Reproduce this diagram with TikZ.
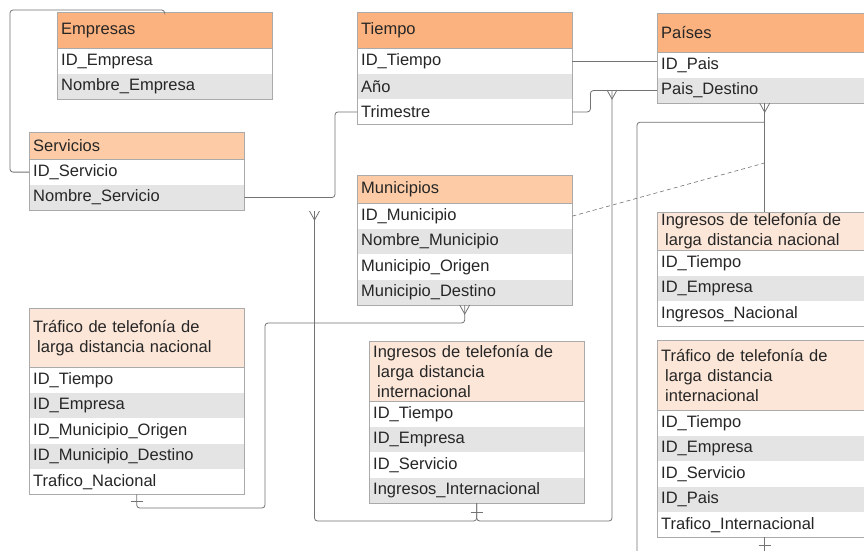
\documentclass[tikz,border=0pt]{standalone}
\usepackage{fontspec}
\setmainfont{Liberation Sans}
\usetikzlibrary{positioning}

\definecolor{hdrdark}{RGB}{252,178,126}
\definecolor{hdrlight}{RGB}{253,204,166}
\definecolor{hdrpale}{RGB}{252,230,216}
\definecolor{rowgray}{RGB}{228,228,228}
\definecolor{edgegray}{RGB}{170,170,170}
\definecolor{linkgray}{RGB}{115,115,115}

\tikzset{
  tablebox/.style={rectangle, anchor=north west, minimum width=215pt, text width=207pt,
    inner xsep=4pt, inner ysep=0pt, align=left, font=\fontsize{16.5}{20}\selectfont, text=black!85},
  hdr/.style={tablebox, fill=#1},
  fieldrow/.style={tablebox, anchor=north, minimum height=25pt, fill=#1},
  tablerule/.style={draw=edgegray, line width=0.7pt},
  relline/.style={draw=linkgray, line width=0.8pt, rounded corners=3pt},
  crowfoot/.pic={\draw[draw=linkgray, line width=0.8pt] (-5,0) -- (0,9) -- (5,0);},
  onebar/.pic={\draw[draw=linkgray, line width=0.8pt] (-6,0) -- (6,0);}
}

% rows of one table, below its header <name>-0
\newcommand{\tablefields}[2]{%
  \foreach \txt [count=\i] in {#2} {%
    \pgfmathtruncatemacro{\prev}{\i-1}%
    \ifodd\i\relax \def\rowfill{white}\else \def\rowfill{rowgray}\fi
    \node[fieldrow=\rowfill, below=0pt of #1-\prev] (#1-\i) {\txt};
  }%
}

\begin{document}
\begin{tikzpicture}[x=1pt,y=-1pt]
    \clip (0,0) rectangle (864,550);
    \fill[white] (0,0) rectangle (864,550);

    % Dimension tables
    \node[hdr=hdrdark, minimum height=36pt] (emp-0) at (57,12) {Empresas};
    \tablefields{emp}{ID\_Empresa,Nombre\_Empresa}

    \node[hdr=hdrlight, minimum height=27pt] (ser-0) at (29,132) {Servicios};
    \tablefields{ser}{ID\_Servicio,Nombre\_Servicio}

    \node[hdr=hdrdark, minimum height=36pt] (tie-0) at (357,12) {Tiempo};
    \tablefields{tie}{ID\_Tiempo,Año,Trimestre}

    \node[hdr=hdrdark, minimum height=39pt] (pai-0) at (657,13) {Países};
    \tablefields{pai}{ID\_Pais,Pais\_Destino}

    \node[hdr=hdrlight, minimum height=28pt] (mun-0) at (357,175) {Municipios};
    \tablefields{mun}{ID\_Municipio,Nombre\_Municipio,Municipio\_Origen,Municipio\_Destino}

    % Fact tables
    \node[hdr=hdrpale, minimum height=59pt] (tna-0) at (29,308)
        {Tráfico de telefonía de\\\hspace*{4pt}larga distancia nacional};
    \tablefields{tna}{ID\_Tiempo,ID\_Empresa,ID\_Municipio\_Origen,ID\_Municipio\_Destino,Trafico\_Nacional}

    \node[hdr=hdrpale, minimum height=60pt] (iin-0) at (369,341)
        {Ingresos de telefonía de\\\hspace*{4pt}larga distancia\\\hspace*{4pt}internacional};
    \tablefields{iin}{ID\_Tiempo,ID\_Empresa,ID\_Servicio,Ingresos\_Internacional}

    \node[hdr=hdrpale, minimum height=38pt] (ina-0) at (657,212)
        {Ingresos de telefonía de\\\hspace*{4pt}larga distancia nacional};
    \tablefields{ina}{ID\_Tiempo,ID\_Empresa,Ingresos\_Nacional}

    \node[hdr=hdrpale, minimum height=70pt] (tin-0) at (657,340)
        {Tráfico de telefonía de\\\hspace*{4pt}larga distancia\\\hspace*{4pt}internacional};
    \tablefields{tin}{ID\_Tiempo,ID\_Empresa,ID\_Servicio,ID\_Pais,Trafico\_Internacional}

    % Table outlines
    \draw[tablerule] (emp-0.north west) rectangle (emp-2.south east);
    \draw[tablerule] (emp-0.south west) -- (emp-0.south east);
    \draw[tablerule] (ser-0.north west) rectangle (ser-2.south east);
    \draw[tablerule] (ser-0.south west) -- (ser-0.south east);
    \draw[tablerule] (tie-0.north west) rectangle (tie-3.south east);
    \draw[tablerule] (tie-0.south west) -- (tie-0.south east);
    \draw[tablerule] (pai-0.north west) rectangle (pai-2.south east);
    \draw[tablerule] (pai-0.south west) -- (pai-0.south east);
    \draw[tablerule] (mun-0.north west) rectangle (mun-4.south east);
    \draw[tablerule] (mun-0.south west) -- (mun-0.south east);
    \draw[tablerule] (tna-0.north west) rectangle (tna-5.south east);
    \draw[tablerule] (tna-0.south west) -- (tna-0.south east);
    \draw[tablerule] (iin-0.north west) rectangle (iin-4.south east);
    \draw[tablerule] (iin-0.south west) -- (iin-0.south east);
    \draw[tablerule] (ina-0.north west) rectangle (ina-3.south east);
    \draw[tablerule] (ina-0.south west) -- (ina-0.south east);
    \draw[tablerule] (tin-0.north west) rectangle (tin-5.south east);
    \draw[tablerule] (tin-0.south west) -- (tin-0.south east);

    % Free ends and bends
    \coordinate (empcorner) at (10,10);
    \coordinate (ymun) at (314.5,211);
    \coordinate (ypai) at (612,90);
    \coordinate (mbendtop) at (265,323);
    \coordinate (mbendlow) at (265,508);
    \coordinate (tinend) at (637,560);
    \coordinate (dashend) at (764.5,163);

    % Relations
    \draw[relline] (emp-0.north) |- (empcorner) |- (ser-1.west);
    \draw[relline] (ser-2.east) -| ([xshift=-22pt]tie-3.west) -- (tie-3.west);
    \draw[relline] (tie-1.east) -- (tie-1.east -| pai-1.west);
    \draw[relline] (tie-3.east) -- ++(18,0) |- (pai-2.west);
    \draw[relline] (iin-4.south) -- ++(0,18) -| (ymun);
    \draw[relline] (iin-4.south) -- ++(0,18) -| (ypai);
    \draw[relline] (mun-4.south) |- (mbendtop) -- (mbendlow) -| (tna-5.south);
    \draw[relline] (pai-2.south) -- (ina-0.north);
    \draw[relline] ([yshift=-19pt]pai-2.south) -| (tinend);
    \draw[relline] (tin-5.south) -- ++(0,25);
    \draw[relline, rounded corners=0pt, line width=0.6pt, dash pattern=on 4pt off 3pt]
        (mun-1.east) -- (dashend);

    % Cardinality marks
    \pic at (ymun) {crowfoot};
    \pic at (ypai) {crowfoot};
    \pic at (mun-4.south) {crowfoot};
    \pic at (pai-2.south) {crowfoot};
    \pic at ([yshift=-9pt]iin-4.south) {onebar};
    \pic at ([yshift=-7pt]tna-5.south) {onebar};
    \pic at ([yshift=-8pt]tin-5.south) {onebar};
\end{tikzpicture}
\end{document}
